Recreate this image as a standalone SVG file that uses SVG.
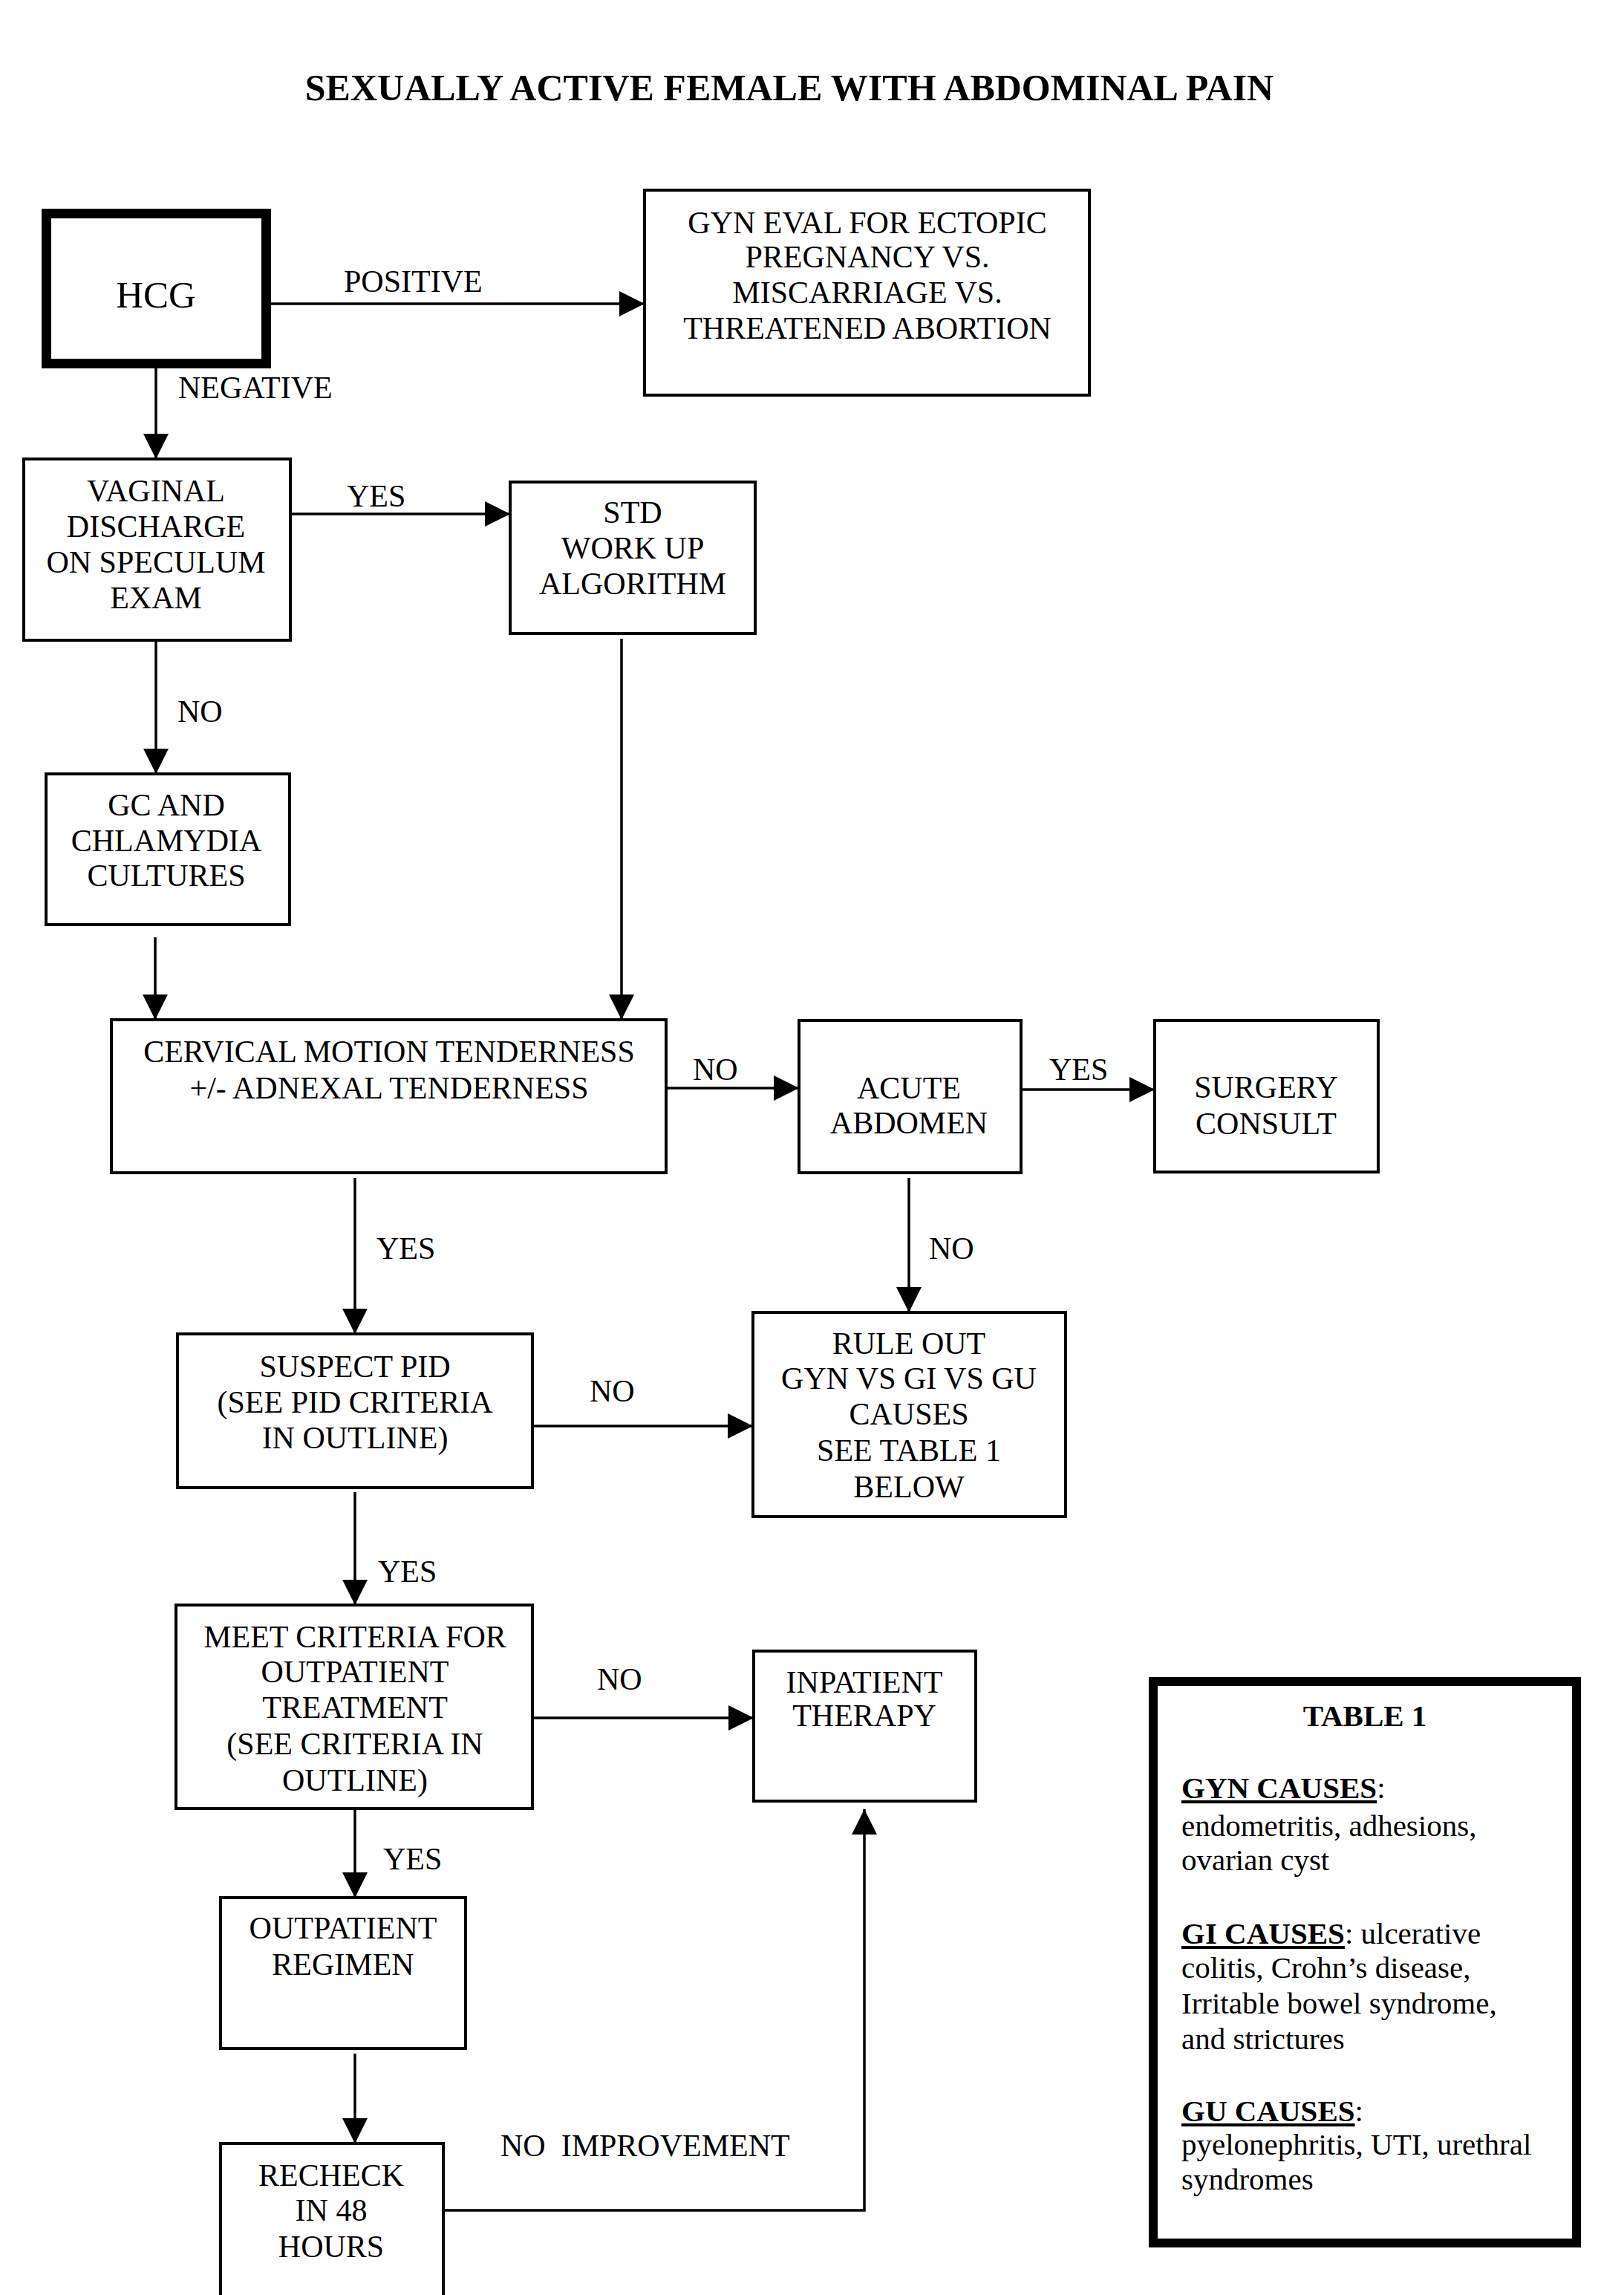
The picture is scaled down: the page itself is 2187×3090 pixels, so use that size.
<svg xmlns="http://www.w3.org/2000/svg" width="2187" height="3090" viewBox="0 0 2187 3090">
<style>
text{font-family:"Liberation Serif","Times New Roman",serif;fill:#000}
.t{font-size:42px;text-anchor:middle}
.l{font-size:42px}
.box{fill:#fff;stroke:#000;stroke-width:4}
.thick{fill:#fff;stroke:#000;stroke-width:13}
.tb{fill:#fff;stroke:#000;stroke-width:12}
.c{fill:none;stroke:#000;stroke-width:3.5}
.tab{font-size:41px}
.b{font-weight:bold}
.u{font-weight:bold;text-decoration:underline}
</style>
<defs>
<marker id="ah" markerUnits="userSpaceOnUse" markerWidth="34" markerHeight="34" refX="32" refY="16" orient="auto" viewBox="0 0 32 32">
<path d="M0,0 L32,16 L0,32 Z" fill="#000"/>
</marker>
</defs>
<rect width="2187" height="3090" fill="#fff"/>
<text x="1063" y="135" font-size="50" font-weight="bold" text-anchor="middle">SEXUALLY ACTIVE FEMALE WITH ABDOMINAL PAIN</text>

<g id="connectors">
<line class="c" x1="365" y1="409" x2="868" y2="409" marker-end="url(#ah)"/>
<line class="c" x1="210" y1="496" x2="210" y2="618" marker-end="url(#ah)"/>
<line class="c" x1="391" y1="692" x2="687" y2="692" marker-end="url(#ah)"/>
<line class="c" x1="210" y1="862" x2="210" y2="1042" marker-end="url(#ah)"/>
<line class="c" x1="837" y1="860" x2="837" y2="1373" marker-end="url(#ah)"/>
<line class="c" x1="209" y1="1262" x2="209" y2="1373" marker-end="url(#ah)"/>
<line class="c" x1="897" y1="1465" x2="1076" y2="1465" marker-end="url(#ah)"/>
<line class="c" x1="1375" y1="1467" x2="1555" y2="1467" marker-end="url(#ah)"/>
<line class="c" x1="478" y1="1586" x2="478" y2="1796" marker-end="url(#ah)"/>
<line class="c" x1="1224" y1="1586" x2="1224" y2="1767" marker-end="url(#ah)"/>
<line class="c" x1="717" y1="1920" x2="1014" y2="1920" marker-end="url(#ah)"/>
<line class="c" x1="478" y1="2009" x2="478" y2="2161" marker-end="url(#ah)"/>
<line class="c" x1="717" y1="2313" x2="1015" y2="2313" marker-end="url(#ah)"/>
<line class="c" x1="478" y1="2435" x2="478" y2="2555" marker-end="url(#ah)"/>
<line class="c" x1="478" y1="2765" x2="478" y2="2886" marker-end="url(#ah)"/>
<polyline class="c" points="597,2976 1164,2976 1164,2436" marker-end="url(#ah)"/>
<text class="l" x="463" y="393">POSITIVE</text>
<text class="l" x="240" y="536">NEGATIVE</text>
<text class="l" x="467" y="682">YES</text>
<text class="l" x="239" y="972">NO</text>
<text class="l" x="933" y="1454">NO</text>
<text class="l" x="1413" y="1454">YES</text>
<text class="l" x="507" y="1695">YES</text>
<text class="l" x="1251" y="1695">NO</text>
<text class="l" x="794" y="1887">NO</text>
<text class="l" x="509" y="2130">YES</text>
<text class="l" x="804" y="2275">NO</text>
<text class="l" x="516" y="2517">YES</text>
<text class="l" x="674" y="2903" xml:space="preserve">NO  IMPROVEMENT</text>
</g>

<g id="hcg">
<rect class="thick" x="62.5" y="287.5" width="296" height="202"/>
<text x="210" y="414" font-size="51" text-anchor="middle">HCG</text>
</g>
<g id="gyn-eval">
<rect class="box" x="868" y="256" width="599" height="276"/>
<text class="t" x="1168" y="314">GYN EVAL FOR ECTOPIC</text>
<text class="t" x="1168" y="360">PREGNANCY VS.</text>
<text class="t" x="1168" y="408">MISCARRIAGE VS.</text>
<text class="t" x="1168" y="456">THREATENED ABORTION</text>
</g>
<g id="vaginal">
<rect class="box" x="32" y="618" width="359" height="244"/>
<text class="t" x="210" y="675">VAGINAL</text>
<text class="t" x="210" y="723">DISCHARGE</text>
<text class="t" x="210" y="771">ON SPECULUM</text>
<text class="t" x="210" y="819">EXAM</text>
</g>
<g id="std">
<rect class="box" x="687" y="649" width="330" height="204"/>
<text class="t" x="852" y="704">STD</text>
<text class="t" x="852" y="752">WORK UP</text>
<text class="t" x="852" y="800">ALGORITHM</text>
</g>
<g id="gc">
<rect class="box" x="62" y="1042" width="328" height="203"/>
<text class="t" x="224" y="1098">GC AND</text>
<text class="t" x="224" y="1146">CHLAMYDIA</text>
<text class="t" x="224" y="1193">CULTURES</text>
</g>
<g id="cmt">
<rect class="box" x="150" y="1373" width="747" height="206"/>
<text class="t" x="524" y="1430">CERVICAL MOTION TENDERNESS</text>
<text class="t" x="524" y="1479">+/- ADNEXAL TENDERNESS</text>
</g>
<g id="acute">
<rect class="box" x="1076" y="1374" width="299" height="205"/>
<text class="t" x="1224" y="1479">ACUTE</text>
<text class="t" x="1224" y="1526">ABDOMEN</text>
</g>
<g id="surgery">
<rect class="box" x="1555" y="1374" width="301" height="204"/>
<text class="t" x="1705" y="1478">SURGERY</text>
<text class="t" x="1705" y="1527">CONSULT</text>
</g>
<g id="suspect">
<rect class="box" x="239" y="1796" width="478" height="207"/>
<text class="t" x="478" y="1854">SUSPECT PID</text>
<text class="t" x="478" y="1902">(SEE PID CRITERIA</text>
<text class="t" x="478" y="1950">IN OUTLINE)</text>
</g>
<g id="rule-out">
<rect class="box" x="1014" y="1767" width="421" height="275"/>
<text class="t" x="1224" y="1823">RULE OUT</text>
<text class="t" x="1224" y="1870">GYN VS GI VS GU</text>
<text class="t" x="1224" y="1918">CAUSES</text>
<text class="t" x="1224" y="1967">SEE TABLE 1</text>
<text class="t" x="1224" y="2016">BELOW</text>
</g>
<g id="meet">
<rect class="box" x="237" y="2161" width="480" height="274"/>
<text class="t" x="478" y="2218">MEET CRITERIA FOR</text>
<text class="t" x="478" y="2265">OUTPATIENT</text>
<text class="t" x="478" y="2313">TREATMENT</text>
<text class="t" x="478" y="2362">(SEE CRITERIA IN</text>
<text class="t" x="478" y="2411">OUTLINE)</text>
</g>
<g id="inpatient">
<rect class="box" x="1015" y="2223" width="299" height="202"/>
<text class="t" x="1164" y="2279">INPATIENT</text>
<text class="t" x="1164" y="2324">THERAPY</text>
</g>
<g id="outpatient">
<rect class="box" x="297" y="2555" width="330" height="203"/>
<text class="t" x="462" y="2610">OUTPATIENT</text>
<text class="t" x="462" y="2659">REGIMEN</text>
</g>
<g id="recheck">
<rect class="box" x="297" y="2886" width="300" height="210"/>
<text class="t" x="446" y="2943">RECHECK</text>
<text class="t" x="446" y="2990">IN 48</text>
<text class="t" x="446" y="3039">HOURS</text>
</g>
<g id="table1">
<rect class="tb" x="1553" y="2264" width="570" height="756"/>
<text class="tab b" x="1838" y="2324" text-anchor="middle" font-size="40">TABLE 1</text>
<text class="tab" x="1591" y="2421"><tspan class="u">GYN CAUSES</tspan>:</text>
<text class="tab" x="1591" y="2472">endometritis, adhesions,</text>
<text class="tab" x="1591" y="2518">ovarian cyst</text>
<text class="tab" x="1591" y="2617"><tspan class="u">GI CAUSES</tspan>: ulcerative</text>
<text class="tab" x="1591" y="2663">colitis, Crohn’s disease,</text>
<text class="tab" x="1591" y="2711">Irritable bowel syndrome,</text>
<text class="tab" x="1591" y="2759">and strictures</text>
<text class="tab" x="1591" y="2856"><tspan class="u">GU CAUSES</tspan>:</text>
<text class="tab" x="1591" y="2901">pyelonephritis, UTI, urethral</text>
<text class="tab" x="1591" y="2948">syndromes</text>
</g>
</svg>
